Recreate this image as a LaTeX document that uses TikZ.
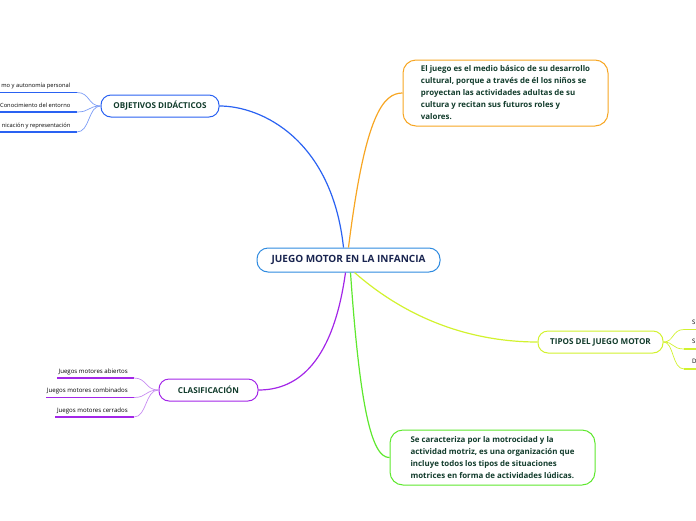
\documentclass[tikz,border=0pt]{standalone}
\usepackage{fontspec}
\setmainfont{Open Sans}
\definecolor{txtgreen}{HTML}{123C2C}
\definecolor{txtnavy}{HTML}{1A2550}
\definecolor{cblue}{HTML}{2F8BE0}
\definecolor{lblue}{HTML}{2A62F2}
\definecolor{lbluel}{HTML}{7B9CF6}
\definecolor{corange}{HTML}{F7A623}
\definecolor{cyellow}{HTML}{D2F22E}
\definecolor{cpurple}{HTML}{A326E8}
\definecolor{cpurplel}{HTML}{C88CF2}
\definecolor{cgreen}{HTML}{5EE82E}
\tikzset{
  topic/.style={draw, line width=1pt, fill=white, rectangle, rounded corners=10pt, inner sep=0pt, align=center,
     font=\fontsize{8.1}{10}\selectfont\bfseries, text=txtgreen},
  textbox/.style={draw, line width=1pt, fill=white, rectangle, rounded corners=13pt, inner ysep=0pt, inner xsep=5pt,
     font=\fontsize{7.9}{12}\selectfont\bfseries, text=txtgreen, align=left},
  subtxt/.style={inner sep=0pt, font=\fontsize{6.1}{7}\selectfont, text=black},
  subtxtsmall/.style={inner sep=0pt, font=\fontsize{5.75}{7}\selectfont, text=black},
  conn/.style={line width=1.2pt},
  subline/.style={line width=1.3pt},
  subcurve/.style={line width=0.7pt}
}
\begin{document}
\begin{tikzpicture}[x=1pt,y=-1pt]
\useasboundingbox (0,0) rectangle (696,520);
% central
\node[topic, draw=cblue, minimum width=183pt, minimum height=24pt, rounded corners=11pt,
      font=\fontsize{10}{12}\selectfont\bfseries, text=txtnavy] (c) at (348.5,260) {JUEGO MOTOR EN LA INFANCIA};
% main topics
\node[topic, draw=lblue, minimum width=118pt, minimum height=22pt] (obj) at (160,106) {OBJETIVOS DIDÁCTICOS};
\node[topic, draw=cyellow, minimum width=125pt, minimum height=22pt] (tip) at (600.5,342) {TIPOS DEL JUEGO MOTOR};
\node[topic, draw=cpurple, minimum width=99pt, minimum height=22pt] (cla) at (208.5,390) {CLASIFICACIÓN};
\node[textbox, draw=corange, minimum width=205pt, minimum height=66pt] (b1) at (505.5,93)
 {El juego es el medio básico de su desarrollo\\cultural, porque a través de él los niños se\\proyectan las actividades adultas de su\\cultura y recitan sus futuros roles y\\valores.};
\node[textbox, draw=cgreen, minimum width=205pt, minimum height=55pt] (b2) at (492.5,457.5)
 {Se caracteriza por la motrocidad y la\\actividad motriz, es una organización que\\incluye todos los tipos de situaciones\\motrices en forma de actividades lúdicas.};
% main connectors
\draw[conn, lblue] ([xshift=-5pt]c.north) .. controls (332,140) and (262,106) .. (obj.east);
\draw[conn, corange] (c.north) .. controls (365,115) and (383,93) .. (b1.west);
\draw[conn, cyellow] ([xshift=6pt]c.south) .. controls (420,330) and (490,342) .. (tip.west);
\draw[conn, cpurple] ([xshift=-3pt]c.south) .. controls (332,370) and (292,390) .. (cla.east);
\draw[conn, cgreen] ([xshift=2pt]c.south) .. controls (360,410) and (372,458) .. (b2.west);
% objetivos sub-items
\coordinate (o1l) at (0,92.5);  \coordinate (o1r) at (77,92.5);
\coordinate (o2l) at (0,112);   \coordinate (o2r) at (77,112);
\coordinate (o3l) at (0,132);   \coordinate (o3r) at (77,132);
\draw[subline, lblue] (o1l) -- (o1r);
\draw[subline, lblue] (o2l) -- (o2r);
\draw[subline, lblue] (o3l) -- (o3r);
\draw[subcurve, lbluel] (o1r) .. controls (90,92.5) and (88,106) .. (obj.west);
\draw[subcurve, lbluel] (o2r) .. controls (90,112) and (88,106) .. (obj.west);
\draw[subcurve, lbluel] (o3r) .. controls (90,132) and (88,106) .. (obj.west);
\node[subtxtsmall, anchor=base east] (o1) at (70.5,87.5) {mo y autonomía personal};
\node[subtxtsmall, anchor=base east] (o2) at (70.5,107) {Conocimiento del entorno};
\node[subtxtsmall, anchor=base east] (o3) at (70.5,127) {nicación y representación};
% tipos sub-items
\coordinate (t1l) at (684,329.5); \coordinate (t1r) at (696,329.5);
\coordinate (t2l) at (684,349);   \coordinate (t2r) at (696,349);
\coordinate (t3l) at (684,369);   \coordinate (t3r) at (696,369);
\draw[subline, cyellow] (t1l) -- (t1r);
\draw[subline, cyellow] (t2l) -- (t2r);
\draw[subline, cyellow] (t3l) -- (t3r);
\draw[subcurve, cyellow] (tip.east) .. controls (674,342) and (672,329.5) .. (t1l);
\draw[subcurve, cyellow] (tip.east) .. controls (674,342) and (672,349) .. (t2l);
\draw[subcurve, cyellow] (tip.east) .. controls (674,342) and (672,369) .. (t3l);
\node[subtxt, anchor=base west] (t1) at (692,324) {S};
\node[subtxt, anchor=base west] (t2) at (692,343.5) {S};
\node[subtxt, anchor=base west] (t3) at (692,363.5) {D};
% clasificacion sub-items
\coordinate (c1l) at (57,378);  \coordinate (c1r) at (134,378);
\coordinate (c2l) at (46,397.5);  \coordinate (c2r) at (134,397.5);
\coordinate (c3l) at (55,417);  \coordinate (c3r) at (134,417);
\draw[subline, cpurple] (c1l) -- (c1r);
\draw[subline, cpurple] (c2l) -- (c2r);
\draw[subline, cpurple] (c3l) -- (c3r);
\draw[subcurve, cpurplel] (c1r) .. controls (147,378) and (145,390) .. (cla.west);
\draw[subcurve, cpurplel] (c2r) .. controls (147,397.5) and (145,390) .. (cla.west);
\draw[subcurve, cpurplel] (c3r) .. controls (147,417) and (145,390) .. (cla.west);
\node[subtxt, anchor=base east] (s1) at (128,373) {Juegos motores abiertos};
\node[subtxt, anchor=base east] (s2) at (128,392.5) {Juegos motores combinados};
\node[subtxt, anchor=base east] (s3) at (128,412) {Juegos motores cerrados};
\end{tikzpicture}
\end{document}
